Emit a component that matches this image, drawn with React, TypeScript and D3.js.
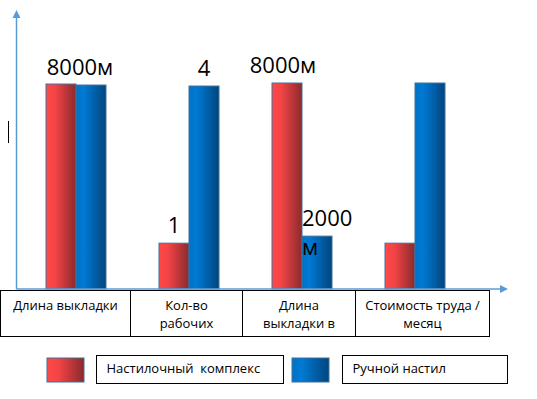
import * as d3 from 'd3';

// categories shown in the table under the axis (line breaks as in the source)
const categories = [
  ['Длина выкладки'],
  ['Кол-во', 'рабочих'],
  ['Длина', 'выкладки в'],
  ['Стоимость труда /', 'месяц'],
];
const seriesNames = ['Настилочный  комплекс', 'Ручной настил'];

// relative bar heights (the source chart is not drawn to one scale)
const complexValues = [4.07, 0.91, 4.09, 0.91];
const manualValues = [4.05, 4.03, 1.05, 4.09];

// value labels: [category index, series index, lines]
const valueLabels: [number, number, string[]][] = [
  [0, 1, ['8000м']],
  [1, 0, ['1']],
  [1, 1, ['4']],
  [2, 0, ['8000м']],
  [2, 1, ['2000', 'м']],
];

const width = 537;
const height = 399;
const font = '"Open Sans", sans-serif';

function App() {
  const axisX = 16.5;
  const baseY = 289;
  const barW = 30;

  const x = d3
    .scaleBand<number>()
    .domain(d3.range(categories.length))
    .range([19.5, 471.5])
    .padding(0);
  const sub = d3
    .scaleBand<number>()
    .domain([0, 1])
    .range([x.bandwidth() / 2 - barW, x.bandwidth() / 2 + barW]);
  const y = d3.scaleLinear().domain([0, 5.5]).range([baseY, 12]);

  const series = [complexValues, manualValues];
  const fills = ['url(#gradRed)', 'url(#gradBlue)'];

  // table cell edges
  const cellEdges = [0.5, 130.5, 242.5, 355.5, 489.5];
  const tableTop = 290;
  const tableBottom = 336;

  const labelNudge = [-11, 0, 0, -4, -15];

  return (
    <svg
      width={width}
      height={height}
      style={{ position: 'absolute', left: 0, top: 0 }}
    >
      <defs>
        <linearGradient id="gradRed" x1="0" x2="1" y1="0" y2="0">
          <stop offset="0" stopColor="#ff4848" />
          <stop offset="0.3" stopColor="#f44446" />
          <stop offset="1" stopColor="#8a2a2c" />
        </linearGradient>
        <linearGradient id="gradBlue" x1="0" x2="1" y1="0" y2="0">
          <stop offset="0" stopColor="#0072c6" />
          <stop offset="0.25" stopColor="#007ad4" />
          <stop offset="1" stopColor="#00457e" />
        </linearGradient>
      </defs>

      {/* bars */}
      {series.map((vals, s) =>
        vals.map((v, i) => (
          <rect
            key={`${s}-${i}`}
            x={(x(i) as number) + (sub(s) as number)}
            y={y(v)}
            width={sub.bandwidth()}
            height={baseY - y(v)}
            fill={fills[s]}
            stroke="#41719c"
            strokeWidth={1}
          />
        ))
      )}

      {/* value labels */}
      {valueLabels.map(([c, s, lines], k) => {
        const v = series[s][c];
        const bx = (x(c) as number) + (sub(s) as number);
        const multi = lines.length > 1;
        const cx = multi ? bx : bx + barW / 2 + labelNudge[k];
        return (
          <text
            key={k}
            x={cx}
            y={y(v) - 10}
            textAnchor={multi ? 'start' : 'middle'}
            fontFamily={font}
            fontSize={22}
            fill="#000"
          >
            {lines.map((l, j) => (
              <tspan key={j} x={cx} dy={j === 0 ? 0 : 29}>
                {l}
              </tspan>
            ))}
          </text>
        );
      })}

      {/* category table */}
      <rect
        x={cellEdges[0]}
        y={tableTop + 0.5}
        width={cellEdges[cellEdges.length - 1] - cellEdges[0]}
        height={tableBottom - tableTop}
        fill="none"
        stroke="#000"
        strokeWidth={1}
      />
      {cellEdges.slice(1, -1).map((e, i) => (
        <line
          key={i}
          x1={e}
          x2={e}
          y1={tableTop}
          y2={tableBottom + 0.5}
          stroke="#000"
        />
      ))}
      {categories.map((lines, i) => {
        const cx = (cellEdges[i] + cellEdges[i + 1]) / 2;
        return (
          <text
            key={i}
            textAnchor="middle"
            fontFamily={font}
            fontSize={13}
            fill="#000"
          >
            {lines.map((l, j) => (
              <tspan key={j} x={cx} y={310 + j * 18}>
                {l}
              </tspan>
            ))}
          </text>
        );
      })}

      {/* axes with arrows */}
      <line x1={axisX} x2={axisX} y1={baseY} y2={16} stroke="#5b9bd5" strokeWidth={1.5} />
      <path
        d={`M${axisX - 4},18 L${axisX},10 L${axisX + 4},18 Z`}
        fill="#5b9bd5"
      />
      <line x1={axisX} x2={501} y1={baseY} y2={baseY} stroke="#5b9bd5" strokeWidth={1.5} />
      <path d={`M500,${baseY - 4} L508,${baseY} L500,${baseY + 4} Z`} fill="#5b9bd5" />

      {/* stray cursor mark */}
      <line x1={8.5} x2={8.5} y1={121} y2={143} stroke="#000" strokeWidth={1} />

      {/* legend */}
      {seriesNames.map((name, s) => {
        const sx = s === 0 ? 47 : 292;
        const bx = s === 0 ? 96.5 : 342.5;
        const bw = s === 0 ? 187 : 165;
        return (
          <g key={name}>
            <rect
              x={sx}
              y={358}
              width={37}
              height={24}
              fill={fills[s]}
              stroke="#41719c"
            />
            <rect x={bx} y={355.5} width={bw} height={28} fill="none" stroke="#000" />
            <text
              x={bx + 10}
              y={373}
              fontFamily={font}
              fontSize={13}
              fill="#000"
              style={{ whiteSpace: 'pre' }}
            >
              {name}
            </text>
          </g>
        );
      })}
    </svg>
  );
}

export default App;
